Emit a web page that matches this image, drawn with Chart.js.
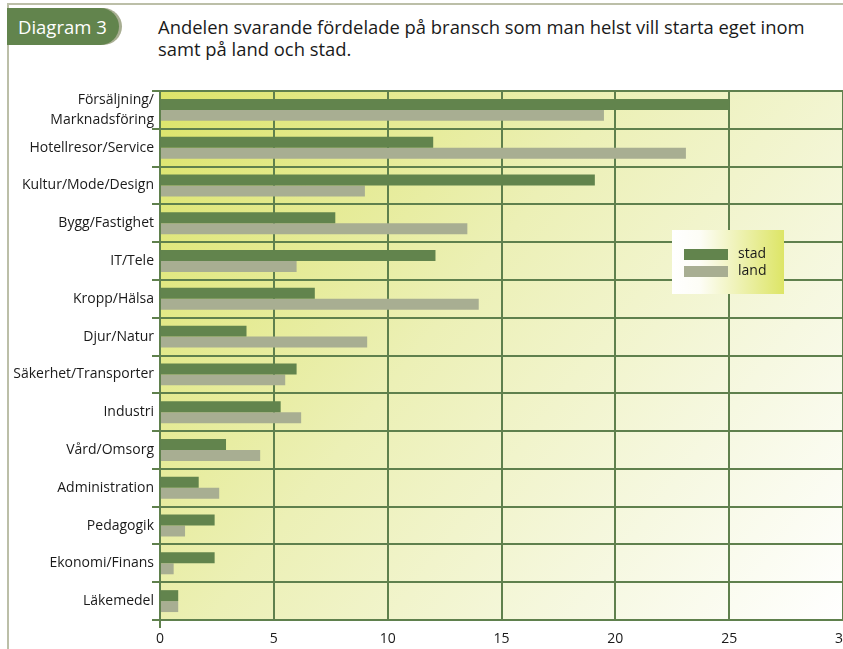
<!DOCTYPE html>
<html lang="sv">
<head>
<meta charset="UTF-8">
<title>Diagram 3</title>
<script src="https://cdn.jsdelivr.net/npm/chart.js"></script>
<style>
    body {
        margin: 0;
        width: 843px;
        height: 649px;
        overflow: hidden;
        position: relative;
        background: #fff;
        font-family: 'Open Sans', sans-serif;
        color: #1a1a1a;
    }
    #ram {
        position: absolute;
        left: 7px; top: 3px; right: 0; bottom: 0;
        border-top: 2px solid #bcbfa8;
        border-left: 2px solid #bcbfa8;
    }
    #flik {
        position: absolute;
        left: 7px; top: 8px;
        width: 112px; height: 37px;
        background: #62844d;
        border-radius: 0 19px 19px 0;
        box-shadow: 3px 0 0 #a8ae92;
        color: #fff;
        font-size: 18.5px;
        line-height: 37px;
        padding-left: 11px;
        box-sizing: border-box;
    }
    #rubrik {
        position: absolute;
        left: 158px; top: 16px;
        font-size: 18.4px;
        line-height: 22px;
        color: #1a1a1a;
    }
    #wrap {
        position: absolute;
        left: 0; top: 0;
    }
</style>
</head>
<body>
<div id="ram"></div>
<div id="flik">Diagram 3</div>
<div id="rubrik">Andelen svarande fördelade på bransch som man helst vill starta eget inom<br>samt på land och stad.</div>
<div id="wrap"><canvas id="chart" width="880" height="649"></canvas></div>

<script>
    const branscher = [
        ['Försäljning/', 'Marknadsföring'],
        'Hotellresor/Service',
        'Kultur/Mode/Design',
        'Bygg/Fastighet',
        'IT/Tele',
        'Kropp/Hälsa',
        'Djur/Natur',
        'Säkerhet/Transporter',
        'Industri',
        'Vård/Omsorg',
        'Administration',
        'Pedagogik',
        'Ekonomi/Finans',
        'Läkemedel'
    ];
    const stad = [25.0, 12.0, 19.1, 7.7, 12.1, 6.8, 3.8, 6.0, 5.3, 2.9, 1.7, 2.4, 2.4, 0.8];
    const land = [19.5, 23.1, 9.0, 13.5, 6.0, 14.0, 9.1, 5.5, 6.2, 4.4, 2.6, 1.1, 0.6, 0.8];
    const xTicks = [0, 5, 10, 15, 20, 25, 30];

    const gron = '#62844d';
    const gra = '#a8ae92';
    const linje = '#5f804d';

    // bakgrund i diagramytan, gul-grön till vit
    const bakgrund = {
        id: 'bakgrund',
        beforeDraw(chart) {
            const { ctx, chartArea: a } = chart;
            const g = ctx.createLinearGradient(a.left, a.top, a.right, a.bottom);
            g.addColorStop(0, '#dce469');
            g.addColorStop(0.42, '#ecf0b6');
            g.addColorStop(0.75, '#f6f8e1');
            g.addColorStop(1, '#ffffff');
            ctx.save();
            ctx.fillStyle = g;
            ctx.fillRect(a.left, a.top, a.right - a.left, a.bottom - a.top);
            ctx.restore();
        }
    };

    // egen förklaring i rutan till höger
    const forklaring = {
        id: 'forklaring',
        afterDraw(chart) {
            const ctx = chart.ctx;
            const x = 672, y = 230, w = 112, h = 64;
            ctx.save();
            const g = ctx.createLinearGradient(x, 0, x + w, 0);
            g.addColorStop(0, '#ffffff');
            g.addColorStop(0.25, '#fdfdf6');
            g.addColorStop(1, '#dde566');
            ctx.fillStyle = g;
            ctx.fillRect(x, y, w, h);
            ctx.font = '14px "Open Sans", sans-serif';
            ctx.textBaseline = 'middle';
            chart.data.datasets.forEach((ds, i) => {
                const yy = y + 19 + i * 17;
                ctx.fillStyle = ds.backgroundColor;
                ctx.fillRect(x + 12, yy, 44, 11);
                ctx.fillStyle = '#1a1a1a';
                ctx.fillText(ds.label, x + 66, yy + 5);
            });
            ctx.restore();
        }
    };

    new Chart(document.getElementById('chart'), {
        type: 'bar',
        data: {
            labels: branscher,
            datasets: [
                { label: 'stad', data: stad, backgroundColor: gron },
                { label: 'land', data: land, backgroundColor: gra }
            ]
        },
        options: {
            indexAxis: 'y',
            responsive: false,
            animation: false,
            categoryPercentage: 0.58,
            barPercentage: 1.0,
            layout: { padding: { top: 91, right: 37, bottom: 0, left: 0 } },
            plugins: {
                legend: { display: false },
                tooltip: { enabled: false }
            },
            scales: {
                x: {
                    min: 0,
                    max: 30,
                    afterBuildTicks: (s) => { s.ticks = xTicks.map(v => ({ value: v })); },
                    afterFit: (s) => { s.height = 29; },
                    grid: {
                        color: linje,
                        lineWidth: 2,
                        tickLength: 8,
                        tickColor: (c) => (c.tick && c.tick.value === 0 ? linje : 'rgba(0,0,0,0)')
                    },
                    border: { color: linje, width: 2 },
                    ticks: {
                        color: '#1a1a1a',
                        padding: 3,
                        font: { family: '"Open Sans", sans-serif', size: 14 }
                    }
                },
                y: {
                    afterFit: (s) => { s.width = 160; },
                    grid: {
                        color: linje,
                        lineWidth: 2,
                        tickLength: 8,
                        offset: true
                    },
                    border: { color: linje, width: 2 },
                    ticks: {
                        color: '#1a1a1a',
                        padding: -2,
                        autoSkip: false,
                        font: { family: '"Open Sans", sans-serif', size: 14, lineHeight: 1.4 }
                    }
                }
            }
        },
        plugins: [bakgrund, forklaring]
    });
</script>
</body>
</html>
